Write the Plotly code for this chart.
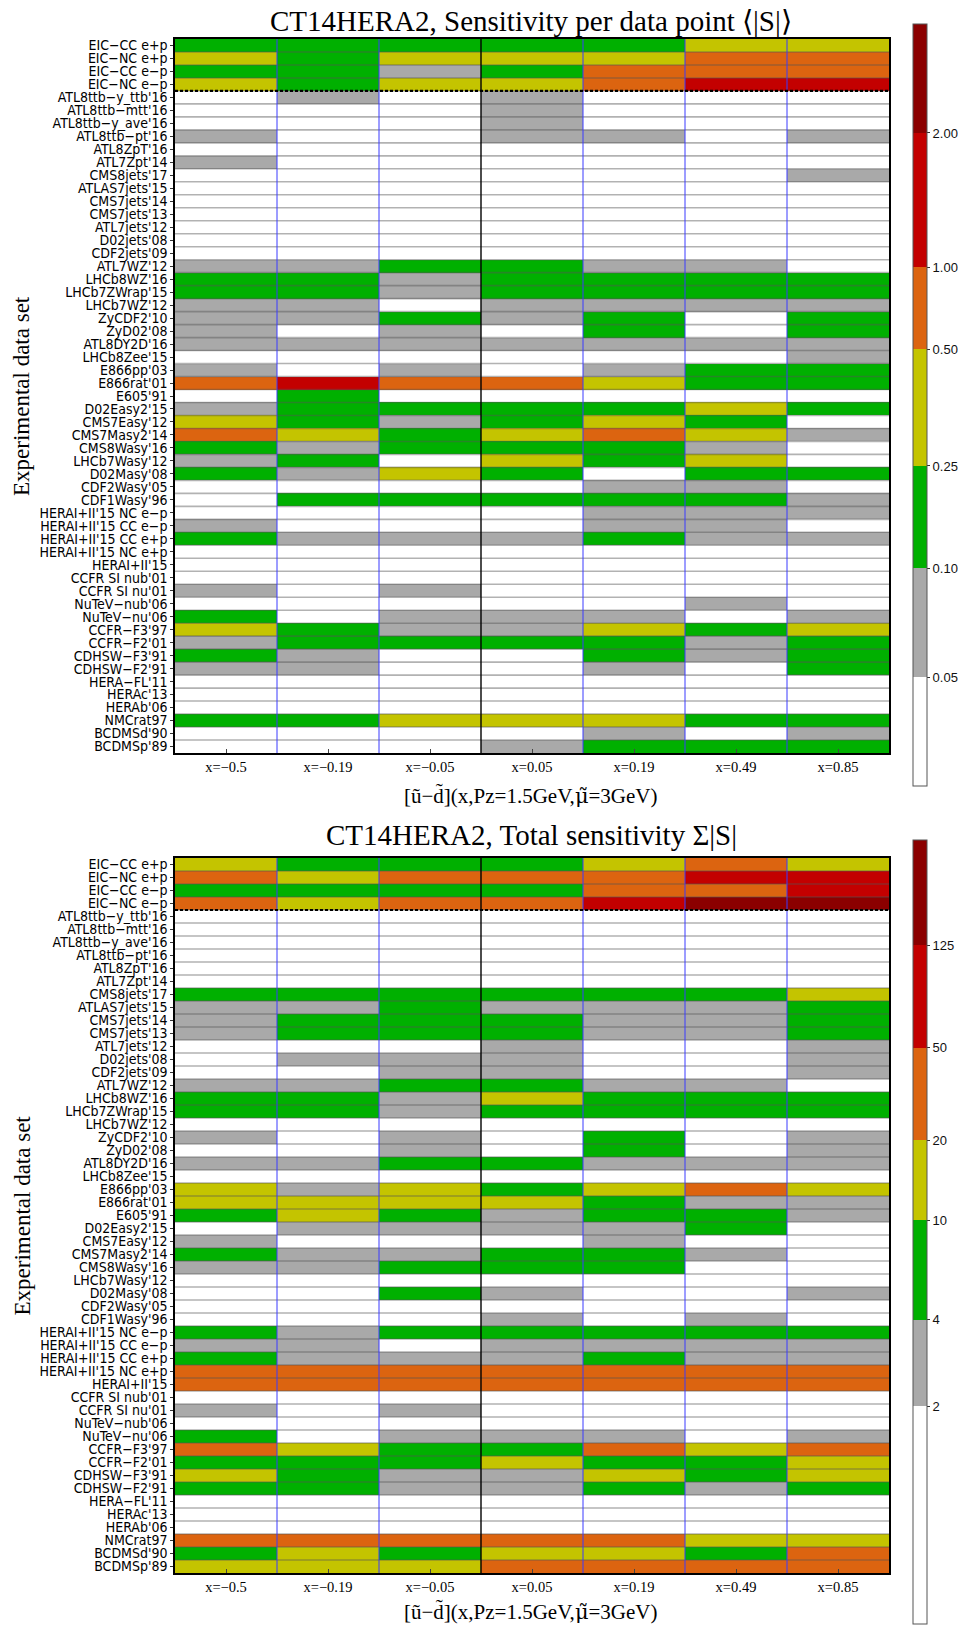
import plotly.graph_objects as go

# ---------------------------------------------------------------- data
DATASETS = [
    "EIC−CC e+p", "EIC−NC e+p", "EIC−CC e−p", "EIC−NC e−p",
    "ATL8ttb−y_ttb'16", "ATL8ttb−mtt'16", "ATL8ttb−y_ave'16", "ATL8ttb−pt'16",
    "ATL8ZpT'16", "ATL7Zpt'14", "CMS8jets'17", "ATLAS7jets'15", "CMS7jets'14",
    "CMS7jets'13", "ATL7jets'12", "D02jets'08", "CDF2jets'09", "ATL7WZ'12",
    "LHCb8WZ'16", "LHCb7ZWrap'15", "LHCb7WZ'12", "ZyCDF2'10", "ZyD02'08",
    "ATL8DY2D'16", "LHCb8Zee'15", "E866pp'03", "E866rat'01", "E605'91",
    "D02Easy2'15", "CMS7Easy'12", "CMS7Masy2'14", "CMS8Wasy'16", "LHCb7Wasy'12",
    "D02Masy'08", "CDF2Wasy'05", "CDF1Wasy'96", "HERAI+II'15 NC e−p",
    "HERAI+II'15 CC e−p", "HERAI+II'15 CC e+p", "HERAI+II'15 NC e+p", "HERAI+II'15",
    "CCFR SI nub'01", "CCFR SI nu'01", "NuTeV−nub'06", "NuTeV−nu'06", "CCFR−F3'97",
    "CCFR−F2'01", "CDHSW−F3'91", "CDHSW−F2'91", "HERA−FL'11", "HERAc'13", "HERAb'06",
    "NMCrat97", "BCDMSd'90", "BCDMSp'89",
]

X_LABELS = ["x=−0.5", "x=−0.19", "x=−0.05", "x=0.05", "x=0.19", "x=0.49", "x=0.85"]

# bin edges of the two colour legends
MEAN_EDGES = ["0.05", "0.10", "0.25", "0.50", "1.00", "2.00"]
TOTAL_EDGES = ["2", "4", "10", "20", "50", "125"]

# sensitivity bin per data set and x value
# (0: below first edge, 1..5: between edges, 6: above last edge)
MEAN_BIN = [
    [2, 2, 2, 2, 2, 3, 3],
    [3, 2, 3, 3, 3, 4, 4],
    [2, 2, 1, 2, 4, 4, 4],
    [3, 2, 3, 3, 4, 5, 5],
    [0, 1, 0, 1, 0, 0, 0],
    [0, 0, 0, 1, 0, 0, 0],
    [0, 0, 0, 1, 0, 0, 0],
    [1, 0, 0, 1, 1, 0, 1],
    [0, 0, 0, 0, 0, 0, 0],
    [1, 0, 0, 0, 0, 0, 0],
    [0, 0, 0, 0, 0, 0, 1],
    [0, 0, 0, 0, 0, 0, 0],
    [0, 0, 0, 0, 0, 0, 0],
    [0, 0, 0, 0, 0, 0, 0],
    [0, 0, 0, 0, 0, 0, 0],
    [0, 0, 0, 0, 0, 0, 0],
    [0, 0, 0, 0, 0, 0, 0],
    [1, 1, 2, 2, 1, 1, 0],
    [2, 2, 1, 2, 2, 2, 2],
    [2, 2, 1, 2, 2, 2, 2],
    [1, 1, 0, 1, 1, 1, 1],
    [1, 1, 2, 1, 2, 0, 2],
    [1, 0, 1, 0, 2, 0, 2],
    [1, 1, 1, 1, 1, 1, 1],
    [0, 0, 0, 0, 0, 0, 1],
    [1, 0, 1, 0, 1, 2, 2],
    [4, 5, 4, 4, 3, 2, 2],
    [0, 2, 0, 0, 0, 0, 0],
    [1, 2, 2, 2, 2, 3, 2],
    [3, 2, 1, 2, 3, 2, 0],
    [4, 3, 2, 3, 4, 3, 1],
    [2, 1, 2, 2, 2, 1, 0],
    [1, 2, 0, 3, 2, 3, 0],
    [2, 1, 3, 2, 0, 2, 2],
    [0, 0, 0, 0, 1, 1, 0],
    [0, 2, 2, 2, 2, 2, 1],
    [0, 0, 0, 0, 1, 1, 1],
    [1, 0, 0, 0, 1, 1, 0],
    [2, 1, 1, 1, 2, 1, 1],
    [0, 0, 0, 0, 0, 0, 0],
    [0, 0, 0, 0, 0, 0, 0],
    [0, 0, 0, 0, 0, 0, 0],
    [1, 0, 1, 0, 0, 0, 0],
    [0, 0, 0, 0, 0, 1, 0],
    [2, 0, 1, 1, 1, 0, 1],
    [3, 2, 1, 1, 3, 2, 3],
    [1, 2, 2, 2, 2, 1, 2],
    [2, 1, 0, 0, 2, 1, 2],
    [1, 1, 0, 0, 1, 0, 2],
    [0, 0, 0, 0, 0, 0, 0],
    [0, 0, 0, 0, 0, 0, 0],
    [0, 0, 0, 0, 0, 0, 0],
    [2, 2, 3, 3, 3, 2, 2],
    [0, 0, 0, 0, 1, 0, 1],
    [0, 0, 0, 1, 2, 2, 2],
]

TOTAL_BIN = [
    [3, 2, 2, 2, 3, 4, 3],
    [4, 3, 4, 4, 4, 5, 5],
    [2, 2, 2, 2, 4, 4, 5],
    [4, 3, 4, 4, 5, 6, 6],
    [0, 0, 0, 0, 0, 0, 0],
    [0, 0, 0, 0, 0, 0, 0],
    [0, 0, 0, 0, 0, 0, 0],
    [0, 0, 0, 0, 0, 0, 0],
    [0, 0, 0, 0, 0, 0, 0],
    [0, 0, 0, 0, 0, 0, 0],
    [2, 2, 2, 2, 2, 2, 3],
    [1, 1, 2, 1, 1, 1, 2],
    [1, 2, 2, 2, 1, 1, 2],
    [1, 2, 2, 2, 1, 1, 2],
    [0, 0, 0, 1, 0, 0, 1],
    [0, 1, 1, 1, 0, 0, 1],
    [0, 0, 1, 1, 0, 0, 1],
    [1, 1, 2, 2, 1, 1, 0],
    [2, 2, 1, 3, 2, 2, 2],
    [2, 2, 1, 2, 2, 2, 2],
    [0, 0, 0, 0, 0, 0, 0],
    [1, 0, 1, 0, 2, 0, 1],
    [0, 0, 1, 0, 2, 0, 1],
    [1, 1, 2, 2, 1, 1, 1],
    [0, 0, 0, 0, 0, 0, 0],
    [3, 1, 3, 2, 3, 4, 3],
    [3, 3, 3, 3, 2, 1, 1],
    [2, 3, 2, 1, 2, 2, 1],
    [0, 1, 1, 1, 1, 2, 0],
    [1, 0, 0, 0, 1, 0, 0],
    [2, 1, 1, 2, 2, 1, 0],
    [1, 1, 2, 2, 2, 0, 0],
    [0, 0, 0, 0, 0, 0, 0],
    [0, 0, 2, 1, 0, 0, 1],
    [0, 0, 0, 0, 0, 0, 0],
    [0, 0, 0, 1, 0, 1, 0],
    [2, 1, 2, 2, 2, 2, 2],
    [1, 1, 0, 1, 1, 1, 1],
    [2, 1, 1, 1, 2, 1, 1],
    [4, 4, 4, 4, 4, 4, 4],
    [4, 4, 4, 4, 4, 4, 4],
    [0, 0, 0, 0, 0, 0, 0],
    [1, 0, 1, 0, 0, 0, 0],
    [0, 0, 0, 0, 0, 0, 0],
    [2, 0, 1, 1, 1, 0, 1],
    [4, 3, 2, 2, 4, 3, 4],
    [2, 2, 2, 3, 2, 2, 3],
    [3, 2, 1, 1, 3, 2, 3],
    [2, 2, 1, 1, 2, 1, 2],
    [0, 0, 0, 0, 0, 0, 0],
    [0, 0, 0, 0, 0, 0, 0],
    [0, 0, 0, 0, 0, 0, 0],
    [4, 4, 4, 4, 4, 3, 3],
    [2, 3, 2, 3, 3, 2, 4],
    [3, 3, 3, 4, 4, 4, 4],
]

# ---------------------------------------------------------------- styling
BIN_COLORS = ["#ffffff", "#a9a9a9", "#00b000", "#c4c400", "#dc6410", "#c30000", "#8b0000"]
# position of each legend edge along its colour bar (0 = bottom, 1 = top)
MEAN_BAR_POS = [0.0, 0.143, 0.286, 0.420, 0.573, 0.681, 0.857, 1.0]
TOTAL_BAR_POS = [0.0, 0.278, 0.388, 0.515, 0.617, 0.735, 0.866, 1.0]

W, H = 958, 1629
ML, MR, MT, MB = 175, 69, 39, 56
PW, PH = W - ML - MR, H - MT - MB


def py(p):
    """pixel row -> paper y"""
    return (H - MB - p) / PH


def px(p):
    """pixel column -> paper x"""
    return (p - ML) / PW


def stepped_scale(pos):
    scale = []
    for k, c in enumerate(BIN_COLORS):
        scale.append([pos[k], c])
        scale.append([pos[k + 1], c])
    return scale


def bar_z(bins, pos):
    return [[(pos[b] + pos[b + 1]) / 2 for b in row] for row in bins]


SERIF = "Liberation Serif, Times New Roman, serif"
LABEL_FONT = dict(family="DejaVu Sans Condensed, Liberation Sans Narrow, sans-serif", size=14, color="black")
X_TITLE = ("[ũ−d̃](x,Pz=1.5GeV,"
           "<span style=\"font-family:'DejaVu Serif'\">μ̃</span>=3GeV)")

n_rows, n_cols = len(DATASETS), len(X_LABELS)
xs = list(range(n_cols))
ys = list(range(n_rows))

fig = go.Figure()

panels = [
    dict(bins=MEAN_BIN, pos=MEAN_BAR_POS, edges=MEAN_EDGES, xa="x", ya="y",
         bar_top=24, bar_len=762,
         title="CT14HERA2, Sensitivity per data point ⟨|S|⟩", title_y=21,
         grid_top=39, grid_bot=753, xtitle_y=795),
    dict(bins=TOTAL_BIN, pos=TOTAL_BAR_POS, edges=TOTAL_EDGES, xa="x2", ya="y2",
         bar_top=840, bar_len=784,
         title="CT14HERA2, Total sensitivity Σ|S|", title_y=835,
         grid_top=858, grid_bot=1573, xtitle_y=1611),
]

shapes, annotations = [], []

for p in panels:
    fig.add_trace(go.Heatmap(
        z=bar_z(p["bins"], p["pos"]), x=xs, y=ys,
        xaxis=p["xa"], yaxis=p["ya"],
        zmin=0, zmax=1, colorscale=stepped_scale(p["pos"]),
        colorbar=dict(
            thickness=14, thicknessmode="pixels",
            len=p["bar_len"], lenmode="pixels",
            x=px(913), xanchor="left", xpad=0,
            y=py(p["bar_top"]), yanchor="top", ypad=0,
            tickmode="array", tickvals=p["pos"][1:-1], ticktext=p["edges"],
            ticks="outside", ticklen=3, tickcolor="#333",
            tickfont=dict(family="Liberation Sans, Arial, sans-serif", size=13, color="#111"),
            outlinewidth=1, outlinecolor="#555",
        ),
        hoverinfo="skip",
    ))

    xref, yref = p["xa"], p["ya"]
    # row separators
    for i in range(n_rows - 1):
        shapes.append(dict(type="line", xref=xref, yref=yref, x0=-0.5, x1=n_cols - 0.5,
                           y0=i + 0.5, y1=i + 0.5,
                           line=dict(color="rgba(85,85,85,0.45)", width=1.6), layer="above"))
    # column separators (x = 0 drawn in black)
    for j in range(n_cols - 1):
        mid = j == (n_cols - 1) // 2 - 1
        shapes.append(dict(type="line", xref=xref, yref=yref, x0=j + 0.5, x1=j + 0.5,
                           y0=-0.5, y1=n_rows - 0.5,
                           line=dict(color="black" if mid else "#3b3bff", width=1.4 if mid else 1),
                           layer="above"))
    # EIC pseudo-data / global fit boundary
    shapes.append(dict(type="line", xref=xref, yref=yref, x0=-0.5, x1=n_cols - 0.5,
                       y0=3.5, y1=3.5, line=dict(color="black", width=2.2, dash="3px,2px"),
                       layer="above"))

    annotations.append(dict(text=p["title"], xref="paper", yref="paper",
                            x=px(531), y=py(p["title_y"]), xanchor="center", yanchor="middle",
                            showarrow=False, font=dict(family=SERIF, size=29, color="black")))
    annotations.append(dict(text=X_TITLE, xref="paper", yref="paper",
                            x=px(531), y=py(p["xtitle_y"]), xanchor="center", yanchor="middle",
                            showarrow=False, font=dict(family=SERIF, size=21, color="black")))
    annotations.append(dict(text="Experimental data set", xref="paper", yref="paper",
                            x=px(22), y=py((p["grid_top"] + p["grid_bot"]) / 2),
                            xanchor="center", yanchor="middle", textangle=-90,
                            showarrow=False, font=dict(family=SERIF, size=23, color="black")))

xaxis_common = dict(
    range=[-0.5, n_cols - 0.5], tickmode="array", tickvals=xs, ticktext=X_LABELS,
    ticks="inside", ticklen=4, tickcolor="#444",
    tickfont=dict(family=SERIF, size=14.5, color="black"),
    showline=True, mirror=True, linecolor="black", linewidth=1.5,
    showgrid=False, zeroline=False, fixedrange=True,
)
yaxis_common = dict(
    range=[n_rows - 0.5, -0.5], tickmode="array", tickvals=ys, ticktext=DATASETS,
    ticks="outside", ticklen=3, tickcolor="#333", tickfont=LABEL_FONT,
    showline=True, mirror=True, linecolor="black", linewidth=1.5,
    showgrid=False, zeroline=False, fixedrange=True,
)

top_dom = [py(753), 1.0]
bot_dom = [0.0, py(858)]

fig.update_layout(
    width=W, height=H,
    margin=dict(l=ML, r=MR, t=MT, b=MB, pad=0, autoexpand=False),
    paper_bgcolor="white", plot_bgcolor="white",
    showlegend=False,
    xaxis=dict(xaxis_common, domain=[0, 1], anchor="y"),
    yaxis=dict(yaxis_common, domain=top_dom, anchor="x"),
    xaxis2=dict(xaxis_common, domain=[0, 1], anchor="y2"),
    yaxis2=dict(yaxis_common, domain=bot_dom, anchor="x2"),
    shapes=shapes,
    annotations=annotations,
)

fig.write_html("out.html")
